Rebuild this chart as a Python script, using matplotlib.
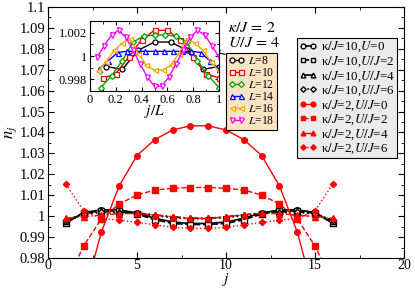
import numpy as np
import matplotlib
matplotlib.use('Agg')
import matplotlib.pyplot as plt
from matplotlib.ticker import MultipleLocator, FuncFormatter

plt.rcParams['font.family'] = ['Liberation Serif', 'DejaVu Serif']
plt.rcParams['mathtext.fontset'] = 'stix'

# main panel: site index j = 1..16
sites = list(range(1, 17))
k10_u0 = [0.9965, 1.0018, 1.0030, 1.0030, 1.0015, 0.9990, 0.9972, 0.9965,
          0.9965, 0.9972, 0.9990, 1.0015, 1.0030, 1.0030, 1.0018, 0.9965]
k10_u2 = [0.9968, 1.0015, 1.0025, 1.0024, 1.0010, 0.9983, 0.9965, 0.9960,
          0.9960, 0.9965, 0.9983, 1.0010, 1.0024, 1.0025, 1.0015, 0.9968]
k10_u4 = [0.9978, 1.0012, 1.0022, 1.0020, 1.0016, 1.0006, 0.9997, 0.9990,
          0.9990, 0.9997, 1.0006, 1.0016, 1.0020, 1.0022, 1.0012, 0.9978]
k10_u6 = [0.9982, 1.0010, 1.0018, 1.0017, 1.0012, 1.0002, 0.9993, 0.9988,
          0.9988, 0.9993, 1.0002, 1.0012, 1.0017, 1.0018, 1.0010, 0.9982]
k2_u0 = [0.920, 0.961, 0.9925, 1.0145, 1.029, 1.0366, 1.0412, 1.0432,
         1.0432, 1.0412, 1.0366, 1.029, 1.0145, 0.9925, 0.961, 0.920]
k2_u2 = [0.968, 0.9857, 0.9988, 1.0058, 1.0101, 1.0125, 1.0133, 1.0137,
         1.0137, 1.0133, 1.0125, 1.0101, 1.0058, 0.9988, 0.9857, 0.968]
k2_u4 = [0.9990, 0.9998, 1.0005, 1.0012, 1.0013, 1.0006, 0.9997, 0.9989,
         0.9989, 0.9997, 1.0006, 1.0013, 1.0012, 1.0005, 0.9998, 0.9990]
k2_u6 = [1.0154, 1.0025, 0.9988, 0.9981, 0.9970, 0.9959, 0.9946, 0.9942,
         0.9942, 0.9946, 0.9959, 0.9970, 0.9981, 0.9988, 1.0025, 1.0154]

# inset: kappa/J=2, U/J=4 for several L
n_L8 = [0.9991, 0.99885, 1.0005, 1.0012, 1.0012, 1.0005, 0.99885, 0.9991]
n_L10 = [0.9981, 0.9985, 0.9999, 1.0014, 1.0022, 1.0022, 1.0014, 0.9999, 0.9985, 0.9981]
n_L12 = [0.9973, 0.9983, 0.9996, 1.0012, 1.0017, 1.0018, 1.0018, 1.0017, 1.0012,
         0.9996, 0.9983, 0.9973]
n_L14 = [0.9989, 0.9996, 1.0003, 1.0004, 1.0004, 1.0004, 1.0004, 1.0004, 1.0004,
         1.0004, 1.0004, 1.0003, 0.9996, 0.9989]
n_L16 = [0.9987, 0.9995, 1.0005, 1.0011, 1.0015, 1.0002, 0.9992, 0.9988, 0.9988,
         0.9992, 1.0002, 1.0015, 1.0011, 1.0005, 0.9995, 0.9987]
n_L18 = [0.9999, 1.0009, 1.0018, 1.0022, 1.0016, 1.0005, 0.9993, 0.9982, 0.9974,
         0.9974, 0.9982, 0.9993, 1.0005, 1.0016, 1.0022, 1.0018, 1.0009, 0.9999]

fig = plt.figure(figsize=(4.15, 2.89), dpi=100)
ax = fig.add_axes([0.1157, 0.1073, 0.8578, 0.8685])

fmt = FuncFormatter(lambda v, p: '%g' % round(v, 6))

main_series = [
    (k10_u0, 'k', 'o', '-', 'white', r'κ$/J$=10,$U$=0'),
    (k10_u2, 'k', 's', '--', 'white', r'κ$/J$=10,$U/J$=2'),
    (k10_u4, 'k', '^', '-.', 'white', r'κ$/J$=10,$U/J$=4'),
    (k10_u6, 'k', 'D', ':', 'white', r'κ$/J$=10,$U/J$=6'),
    (k2_u0, 'red', 'o', '-', 'red', r'κ$/J$=2,$U/J$=0'),
    (k2_u2, 'red', 's', '--', 'red', r'κ$/J$=2,$U/J$=2'),
    (k2_u4, 'red', '^', '-.', 'red', r'κ$/J$=2,$U/J$=4'),
    (k2_u6, 'red', 'D', ':', 'red', r'κ$/J$=2,$U/J$=6'),
]
for vals, c, m, ls, fc, lab in main_series:
    ms = 4 if m != 'D' else 3.2
    ax.plot(sites, vals, color=c, marker=m, ls=ls, lw=1.2 if c == 'k' else 1.0,
            mfc=fc, mec=c, ms=ms, mew=1.0, label=lab)

ax.set_xlim(0, 20)
ax.set_ylim(0.98, 1.1)
ax.xaxis.set_major_locator(MultipleLocator(5))
ax.xaxis.set_minor_locator(MultipleLocator(2.5))
ax.yaxis.set_major_locator(MultipleLocator(0.01))
ax.yaxis.set_minor_locator(MultipleLocator(0.005))
ax.yaxis.set_major_formatter(fmt)
ax.tick_params(which='both', direction='in', top=True, right=True, labelsize=10.5)
ax.tick_params(which='major', length=4, pad=2)
ax.tick_params(axis='x', which='major', pad=1, labelsize=10)
ax.tick_params(which='minor', length=2.5)
fig.text(0.545, 0.004, r'$j$', fontsize=11, ha='center', va='bottom')
ax.set_ylabel(r'$n_j$', fontsize=12, labelpad=0)

leg = ax.legend(loc='upper left', bbox_to_anchor=(0.7157, 0.8685),
                bbox_transform=fig.transFigure, fontsize=9.4, handlelength=1.4,
                handletextpad=0.3, labelspacing=0.0, borderpad=0.15,
                borderaxespad=0, numpoints=2, fancybox=False, framealpha=1,
                facecolor='#ebebeb', edgecolor='black', markerscale=0.85)
leg.get_frame().set_linewidth(0.8)

fig.text(0.549, 0.903, r'$\kappa/J\,=\,2$', fontsize=11.5, va='center')
fig.text(0.549, 0.851, r'$U/J\,=\,4$', fontsize=11.5, va='center')

# inset
ins = fig.add_axes([0.2169, 0.6851, 0.3108, 0.2422])
inset_series = [
    (8, n_L8, 'black', 'o'),
    (10, n_L10, 'red', 's'),
    (12, n_L12, '#00a000', 'D'),
    (14, n_L14, 'blue', '^'),
    (16, n_L16, 'orange', '<'),
    (18, n_L18, 'magenta', 'v'),
]
for L, vals, c, m in inset_series:
    x = np.arange(1, L + 1) / L
    ins.plot(x, vals, color=c, marker=m, lw=1.0, mfc='white', mec=c,
             ms=3.6 if m != 'D' else 3.0, mew=0.9, label=r'$L$=%d' % L)
ins.set_xlim(0, 1)
ins.set_ylim(0.997, 1.003)
ins.xaxis.set_major_locator(MultipleLocator(0.2))
ins.xaxis.set_minor_locator(MultipleLocator(0.1))
ins.yaxis.set_major_locator(MultipleLocator(0.002))
ins.yaxis.set_minor_locator(MultipleLocator(0.001))
ins.xaxis.set_major_formatter(fmt)
ins.yaxis.set_major_formatter(fmt)
ins.tick_params(which='both', direction='in', top=True, right=True, labelsize=9, pad=2)
ins.tick_params(which='major', length=3)
ins.tick_params(which='minor', length=1.8)
ins.set_xlabel(r'$j/L$', fontsize=11, labelpad=-2)

leg2 = ins.legend(loc='upper left', bbox_to_anchor=(0.5446, 0.8166),
                  bbox_transform=fig.transFigure, fontsize=8.4, handlelength=1.4,
                  handletextpad=0.3, labelspacing=0.0, borderpad=0.2,
                  borderaxespad=0, numpoints=2, fancybox=False, framealpha=1,
                  facecolor='#fbe4c3', edgecolor='black')
leg2.get_frame().set_linewidth(0.8)

ax.annotate('', xy=(0.507, 0.823), xycoords='figure fraction',
            xytext=(0.549, 0.810), textcoords='figure fraction',
            arrowprops=dict(arrowstyle='->', lw=0.8, color='k'))

fig.savefig('out.png', dpi=100)
